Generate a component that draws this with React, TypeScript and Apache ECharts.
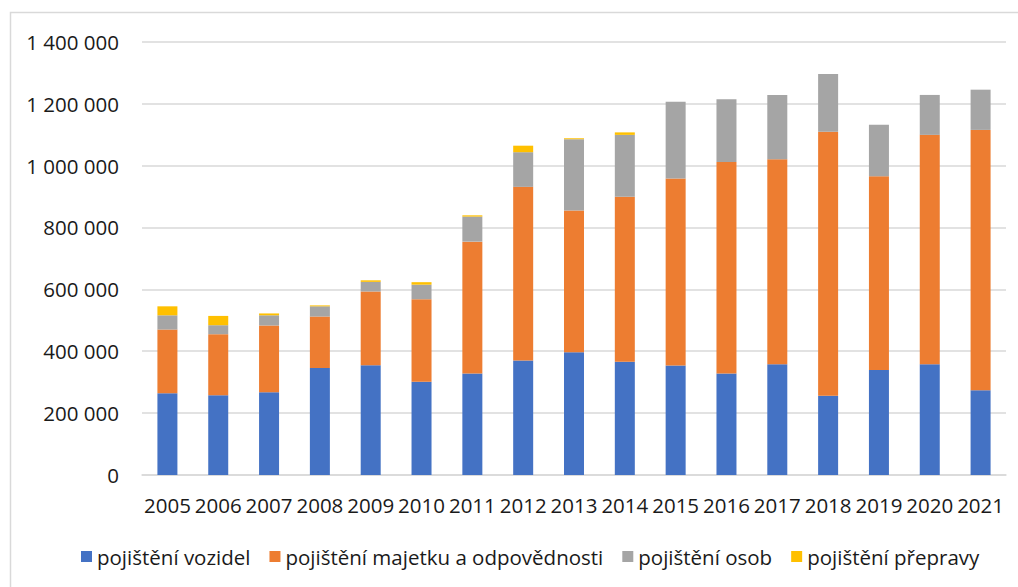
import React, { useEffect, useRef } from "react";
import * as echarts from "echarts";

const years = ["2005","2006","2007","2008","2009","2010","2011","2012","2013","2014","2015","2016","2017","2018","2019","2020","2021"];
const vozidel = [264000, 258000, 267000, 346000, 355000, 301000, 328000, 370000, 397000, 366000, 354000, 328000, 358000, 256000, 339000, 358000, 274000];
const majetku = [206000, 197000, 216000, 166000, 238000, 267000, 426000, 561000, 458000, 533000, 604000, 683000, 662000, 853000, 626000, 741000, 841000];
const osob = [46000, 29000, 33000, 33000, 31000, 47000, 81000, 112000, 230000, 200000, 248000, 203000, 208000, 187000, 167000, 129000, 130000];
const prepravy = [29000, 30000, 6000, 3000, 5000, 8000, 4000, 21000, 3000, 8000, 0, 0, 0, 0, 0, 0, 0];
const seriesNames = ["pojištění vozidel", "pojištění majetku a odpovědnosti", "pojištění osob", "pojištění přepravy"];
const colors = ["#4472C4", "#ED7D31", "#A5A5A5", "#FFC000"];

const FONT = "Open Sans";
const FS = 20.5;

function fmt(v: number): string {
  return String(Math.round(v)).replace(/\B(?=(\d{3})+(?!\d))/g, " ");
}

export default function App() {
  const ref = useRef<HTMLDivElement>(null);
  useEffect(() => {
    if (!ref.current) return;
    const chart = echarts.init(ref.current, null, { renderer: "svg" });
    const data = [vozidel, majetku, osob, prepravy];
    chart.setOption({
      animation: false,
      backgroundColor: "#ffffff",
      color: colors,
      textStyle: { fontFamily: FONT },
      graphic: [
        {
          type: "rect",
          shape: { x: 10.5, y: 12.5, width: 1200, height: 800 },
          style: { fill: "none", stroke: "#d9d9d9", lineWidth: 1.5 },
          silent: true,
        },
      ],
      grid: { left: 142, right: 12, top: 41.7, bottom: 112, containLabel: false },
      legend: {
        bottom: 15,
        left: 76,
        itemWidth: 11,
        itemHeight: 11,
        itemGap: 19,
        icon: "rect",
        textStyle: { fontFamily: FONT, fontSize: FS, color: "#1a1a1a" },
        data: seriesNames,
      },
      xAxis: {
        type: "category",
        data: years,
        axisLine: { show: true, lineStyle: { color: "#d9d9d9", width: 1.5 } },
        axisTick: { show: false },
        axisLabel: { fontFamily: FONT, fontSize: FS, color: "#1a1a1a", margin: 19, interval: 0, hideOverlap: false },
      },
      yAxis: {
        type: "value",
        min: 0,
        max: 1400000,
        interval: 200000,
        axisLine: { show: false },
        axisTick: { show: false },
        splitLine: { lineStyle: { color: "#d9d9d9", width: 1.5 } },
        axisLabel: { fontFamily: FONT, fontSize: FS, color: "#1a1a1a", margin: 23, formatter: (v: number) => fmt(v) },
      },
      series: seriesNames.map((name, i) => ({
        name,
        type: "bar",
        stack: "total",
        barWidth: 20,
        data: data[i],
        itemStyle: { color: colors[i] },
      })),
    });
    return () => chart.dispose();
  }, []);
  return <div ref={ref} style={{ position: "fixed", left: 0, top: 0, width: 1018, height: 587 }} />;
}
